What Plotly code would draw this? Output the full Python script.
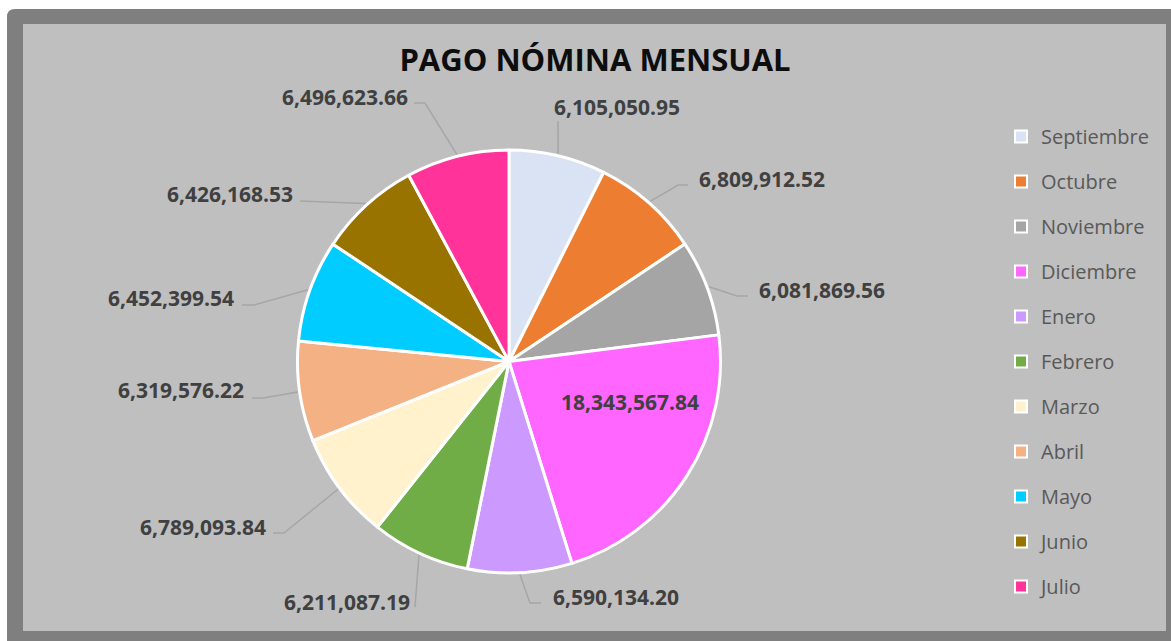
import numpy as np
import plotly.graph_objects as go

# ---------------- data ----------------
months = ["Septiembre", "Octubre", "Noviembre", "Diciembre", "Enero", "Febrero",
          "Marzo", "Abril", "Mayo", "Junio", "Julio"]
values = [6105050.95, 6809912.52, 6081869.56, 18343567.84, 6590134.20, 6211087.19,
          6789093.84, 6319576.22, 6452399.54, 6426168.53, 6496623.66]
title_text = "PAGO NÓMINA MENSUAL"

# ---------------- style ----------------
colors = ["#dae3f3", "#ed7d31", "#a5a5a5", "#ff66ff", "#cc99ff", "#70ad47",
          "#fff2cc", "#f4b183", "#00ccff", "#997300", "#ff3399"]
FONT = "Open Sans"
W, H = 1171, 641
CX, CY, R = 509, 361.5, 211.5  # pie geometry in pixels

# label anchor (pixel x, pixel y, xanchor) and leader-line bend points (pixels)
label_style = [
    (552, 107, "left",   [(558, 121)]),
    (697, 179, "left",   [(678, 185), (688, 185)]),
    (757, 290, "left",   [(737, 296), (748, 296)]),
    (630, 402, "center", None),
    (551, 597, "left",   [(530, 603), (541, 603)]),
    (412, 602, "right",  [(415, 607)]),
    (268, 527, "right",  [(284, 533), (273, 533)]),
    (246, 390, "right",  [(263, 398), (252, 398)]),
    (236, 298, "right",  [(254, 305), (242, 305)]),
    (295, 194, "right",  [(300, 201)]),
    (410, 97,  "right",  [(425, 103), (414, 103)]),
]


def px(x):
    return x / W


def py(y):
    return 1 - y / H


fig = go.Figure()

fig.add_trace(go.Pie(
    labels=months, values=values, sort=False, direction="clockwise", rotation=0,
    marker=dict(colors=colors, line=dict(color="white", width=3)),
    textinfo="none", showlegend=False,
    domain=dict(x=[px(CX - R), px(CX + R)], y=[py(CY + R), py(CY - R)]),
    hovertemplate="%{label}: %{value:,.2f}<extra></extra>",
))

# legend entries
for m, c in zip(months, colors):
    fig.add_trace(go.Scatter(
        x=[None], y=[None], mode="markers", name=m, legendgroup=m,
        marker=dict(symbol="square", size=13, color=c, line=dict(color="white", width=2)),
        showlegend=True, hoverinfo="skip",
    ))

# data labels and leader lines
total = float(np.sum(values))
cum = np.cumsum([0] + values[:-1])
shapes = []
annotations = []

# frame
r0 = 8
frame_path = (f"M {px(7)},{py(9 + r0)} Q {px(7)},{py(9)} {px(7 + r0)},{py(9)} "
              f"L {px(1185)},{py(9)} L {px(1185)},{py(655)} L {px(7)},{py(655)} Z")
shapes.append(dict(type="path", xref="paper", yref="paper", path=frame_path,
                   fillcolor="#7f7f7f", line=dict(width=0), layer="below"))
shapes.append(dict(type="rect", xref="paper", yref="paper",
                   x0=px(23), x1=px(1166), y0=py(631), y1=py(24),
                   fillcolor="#bfbfbf", line=dict(width=0), layer="below"))

for i, v in enumerate(values):
    xt, yt, anc, pts = label_style[i]
    annotations.append(dict(
        x=px(xt), y=py(yt), xref="paper", yref="paper", xanchor=anc, yanchor="middle",
        text=f"{v:,.2f}", showarrow=False,
        font=dict(family=FONT, size=21, color="#404040", weight="bold"),
    ))
    if pts:
        mid = (cum[i] + v / 2) / total * 2 * np.pi
        sx = CX + (R + 2) * np.sin(mid)
        sy = CY - (R + 2) * np.cos(mid)
        path = f"M {px(sx)},{py(sy)} " + " ".join(f"L {px(a)},{py(b)}" for a, b in pts)
        shapes.append(dict(type="path", xref="paper", yref="paper", path=path,
                           line=dict(color="#a6a6a6", width=1.5)))

fig.update_layout(
    width=W, height=H,
    margin=dict(l=0, r=0, t=0, b=0),
    paper_bgcolor="white", plot_bgcolor="rgba(0,0,0,0)",
    title=dict(text=title_text, x=px(595), y=py(60), xanchor="center", yanchor="middle",
               font=dict(family=FONT, size=31, color="#0d0d0d", weight="bold")),
    xaxis=dict(visible=False), yaxis=dict(visible=False),
    legend=dict(x=px(1001), y=py(117), xanchor="left", yanchor="top",
                font=dict(family=FONT, size=20, color="#595959"),
                bgcolor="rgba(0,0,0,0)", tracegroupgap=16, itemsizing="constant"),
    shapes=shapes, annotations=annotations,
    font=dict(family=FONT),
)

fig.write_html(
    "out.html",
    config={"displayModeBar": False},
    post_script="document.body.style.margin='0';document.body.style.overflow='hidden';",
)
